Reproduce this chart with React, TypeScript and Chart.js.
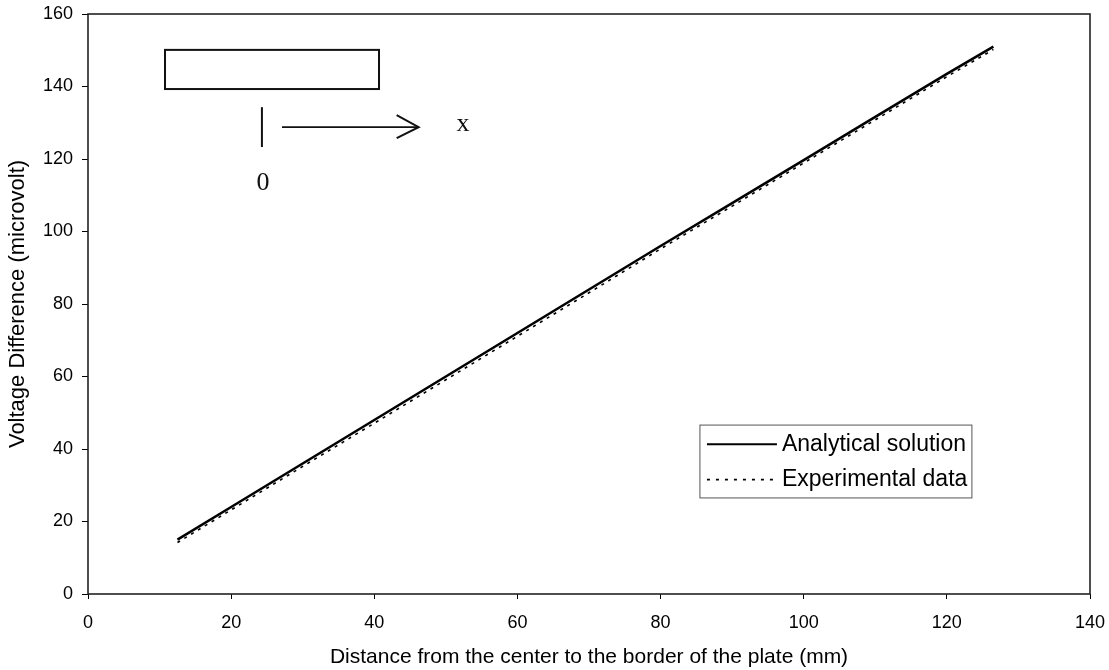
import React, { useEffect, useRef } from "react";
import { Chart, registerables } from "chart.js";

Chart.register(...registerables);

// Distance from the center (mm)
const analyticalX = [12.5, 20, 30, 40, 50, 60, 70, 80, 90, 100, 110, 120, 126.5];
// Voltage difference (microvolt)
const analyticalY = [15, 24, 36, 48, 60, 72, 84, 96, 107.8, 119.7, 131.6, 143.5, 151];

const experimentalX = [12.5, 20, 30, 40, 50, 60, 70, 80, 90, 100, 110, 120, 126.5];
const experimentalY = [14.2, 23.2, 35.2, 47.1, 59.1, 71.1, 83.1, 95.2, 107.0, 118.9, 130.8, 142.7, 150.2];

const xTicks = [0, 20, 40, 60, 80, 100, 120, 140];
const yTicks = [0, 20, 40, 60, 80, 100, 120, 140, 160];

const seriesNames = ["Analytical solution", "Experimental data"];

const SANS = '"Liberation Sans", Arial, Helvetica, sans-serif';
const SERIF = '"Liberation Serif", "Times New Roman", serif';

const framePlugin = {
  id: "frame",
  afterDraw(chart: any) {
    const { ctx, chartArea: a, scales } = chart;
    const xs = scales.x;
    const ys = scales.y;
    ctx.save();
    // plot frame
    ctx.strokeStyle = "#222";
    ctx.lineWidth = 1.6;
    ctx.strokeRect(a.left, a.top, a.right - a.left, a.bottom - a.top);

    // inset sketch (data coordinates)
    const px = (v: number) => xs.getPixelForValue(v);
    const py = (v: number) => ys.getPixelForValue(v);
    ctx.strokeStyle = "#111";
    ctx.lineWidth = 2;
    ctx.strokeRect(px(10.76), py(150.1), px(40.66) - px(10.76), py(139.3) - py(150.1));
    ctx.beginPath();
    ctx.moveTo(px(24.3), py(134.3));
    ctx.lineTo(px(24.3), py(123.3));
    ctx.stroke();
    ctx.beginPath();
    ctx.lineWidth = 1.6;
    ctx.moveTo(px(27.1), py(128.8));
    ctx.lineTo(px(46.2), py(128.8));
    ctx.stroke();
    const tipX = px(46.2);
    const tipY = py(128.8);
    ctx.beginPath();
    ctx.lineWidth = 2;
    ctx.moveTo(tipX - 22, tipY - 12);
    ctx.lineTo(tipX, tipY);
    ctx.lineTo(tipX - 22, tipY + 11);
    ctx.stroke();
    ctx.fillStyle = "#111";
    ctx.font = `26px ${SERIF}`;
    ctx.textAlign = "center";
    ctx.textBaseline = "middle";
    ctx.fillText("x", px(52.4), py(129.6));
    ctx.fillText("0", px(24.45), py(113.4));

    // legend box
    const lx0 = px(85.5);
    const lx1 = px(123.5);
    const ly0 = py(46.6);
    const ly1 = py(26.5);
    ctx.lineWidth = 1;
    ctx.strokeStyle = "#555";
    ctx.fillStyle = "#fff";
    ctx.fillRect(lx0, ly0, lx1 - lx0, ly1 - ly0);
    ctx.strokeRect(lx0, ly0, lx1 - lx0, ly1 - ly0);
    const rowH = (ly1 - ly0) / 2;
    const r1 = ly0 + rowH * 0.5 + 1;
    const r2 = ly0 + rowH * 1.5;
    ctx.strokeStyle = "#000";
    ctx.lineWidth = 2;
    ctx.beginPath();
    ctx.moveTo(lx0 + 7, r1);
    ctx.lineTo(lx0 + 77, r1);
    ctx.stroke();
    ctx.lineWidth = 1.8;
    ctx.setLineDash([3, 6]);
    ctx.beginPath();
    ctx.moveTo(lx0 + 7, r2);
    ctx.lineTo(lx0 + 77, r2);
    ctx.stroke();
    ctx.setLineDash([]);
    ctx.fillStyle = "#000";
    ctx.font = `23px ${SANS}`;
    ctx.textAlign = "left";
    ctx.textBaseline = "middle";
    ctx.fillText(seriesNames[0], lx0 + 82, r1);
    ctx.fillText(seriesNames[1], lx0 + 82, r2);
    ctx.restore();
  },
};

export default function App() {
  const ref = useRef<HTMLCanvasElement>(null);

  useEffect(() => {
    if (!ref.current) return;
    const chart = new Chart(ref.current, {
      type: "scatter",
      data: {
        datasets: [
          {
            label: seriesNames[1],
            data: experimentalX.map((x, i) => ({ x, y: experimentalY[i] })),
            showLine: true,
            borderColor: "#000",
            borderWidth: 1.6,
            borderDash: [3, 5],
            pointRadius: 0,
          },
          {
            label: seriesNames[0],
            data: analyticalX.map((x, i) => ({ x, y: analyticalY[i] })),
            showLine: true,
            borderColor: "#000",
            borderWidth: 2.6,
            pointRadius: 0,
          },
        ],
      },
      options: {
        responsive: false,
        animation: false,
        layout: { padding: { top: 14, right: 19, left: 0, bottom: 0 } },
        plugins: {
          legend: { display: false },
          tooltip: { enabled: false },
        },
        scales: {
          x: {
            type: "linear",
            min: 0,
            max: 140,
            afterBuildTicks: (s: any) => {
              s.ticks = xTicks.map((v) => ({ value: v }));
            },
            afterFit: (s: any) => {
              s.height = 76;
              s.paddingLeft = 0;
              s.paddingRight = 0;
              s.paddingTop = 0;
              s.paddingBottom = 0;
            },
            grid: { display: true, drawOnChartArea: false, drawTicks: true, tickLength: 5, color: "#000" },
            border: { display: false },
            ticks: { color: "#000", font: { family: SANS, size: 18 }, padding: 13, maxRotation: 0 },
            title: {
              display: true,
              text: "Distance from the center to the border of the plate (mm)",
              color: "#000",
              font: { family: SANS, size: 21 },
              padding: { top: 0, bottom: 0 },
            },
          },
          y: {
            type: "linear",
            min: 0,
            max: 160,
            afterBuildTicks: (s: any) => {
              s.ticks = yTicks.map((v) => ({ value: v }));
            },
            afterFit: (s: any) => {
              s.width = 88;
              s.paddingLeft = 0;
              s.paddingRight = 0;
              s.paddingTop = 0;
              s.paddingBottom = 0;
            },
            grid: { display: true, drawOnChartArea: false, drawTicks: true, tickLength: 6, color: "#000" },
            border: { display: false },
            ticks: { color: "#000", font: { family: SANS, size: 18 }, padding: 9 },
            title: {
              display: true,
              text: "Voltage Difference (microvolt)",
              color: "#000",
              font: { family: SANS, size: 22 },
              padding: { top: 5, bottom: 0 },
            },
          },
        },
      },
      plugins: [framePlugin],
    });
    return () => chart.destroy();
  }, []);

  return (
    <div style={{ position: "absolute", left: 0, top: 0, width: 1109, height: 670, background: "#fff" }}>
      <canvas ref={ref} width={1109} height={670} style={{ display: "block" }} />
    </div>
  );
}
